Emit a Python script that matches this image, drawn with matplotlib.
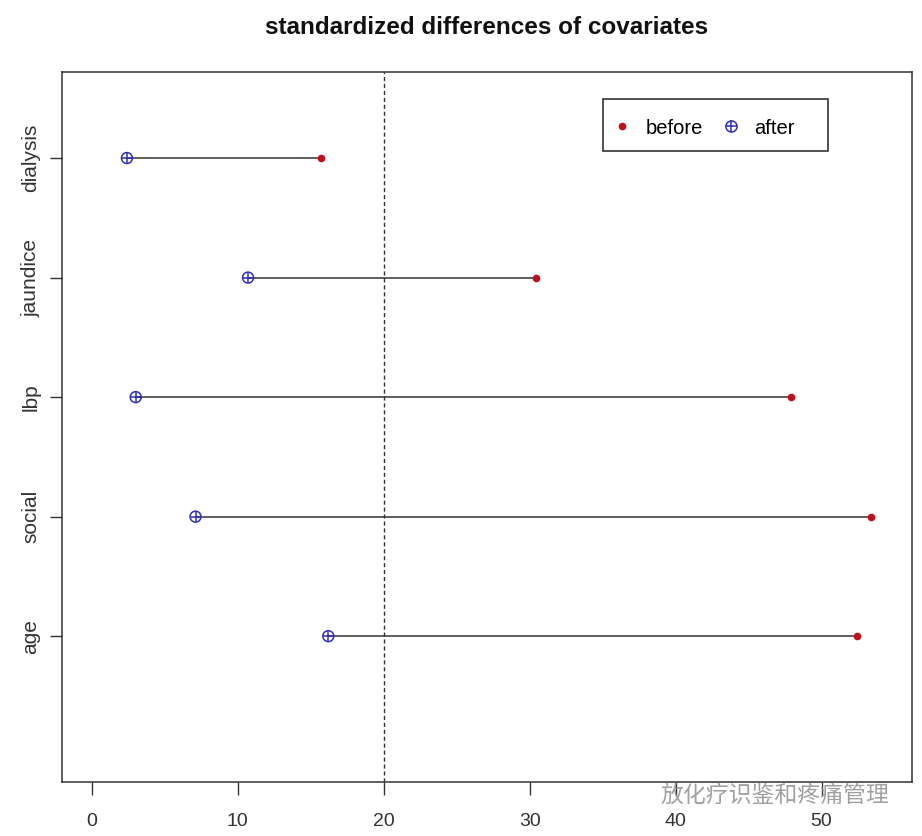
import matplotlib
matplotlib.use("Agg")
import matplotlib.pyplot as plt
from matplotlib.lines import Line2D
from matplotlib.patches import Rectangle

plt.rcParams['font.family'] = ['Liberation Sans', 'DejaVu Sans']

covariates = ["age", "social", "lbp", "jaundice", "dialysis"]
before = [52.4, 53.4, 47.9, 30.4, 15.7]
after = [16.2, 7.1, 3.0, 10.7, 2.4]
x_ticks = [0, 10, 20, 30, 40, 50]
threshold = 20

red = "#C0101C"
blue = "#3030B0"

fig = plt.figure(figsize=(9.22, 8.36), dpi=100)
ax = fig.add_axes([62 / 922, 54 / 836, 850 / 922, 710 / 836])

ypos = list(range(1, len(covariates) + 1))
for y, b, a in zip(ypos, before, after):
    ax.plot([a, b], [y, y], color="#333333", lw=1.1, zorder=1)
ax.scatter(before, ypos, s=20, color=red, zorder=3)
ax.scatter(after, ypos, s=62, facecolor="none", edgecolor=blue, marker="o", lw=1.1, zorder=3)
ax.scatter(after, ypos, s=62, color=blue, marker="+", lw=1.1, zorder=3)

ax.axvline(threshold, color="#333333", lw=1, linestyle=(0, (3, 2)))

ax.set_xlim(-2.05, 56.2)
ax.set_ylim(-0.22, 5.72)
ax.set_xticks(x_ticks)
ax.set_yticks(ypos)
ax.set_yticklabels(covariates, rotation=90, va="center")
ax.tick_params(direction="out", length=9, width=1, labelsize=14, colors="#333333")
ax.tick_params(axis="x", pad=13)
ax.tick_params(axis="y", pad=6.5, labelsize=15)
for s in ax.spines.values():
    s.set_linewidth(1.1)
    s.set_color("#333333")

fig.text(487 / 922, 1 - 27 / 836, "standardized differences of covariates", fontsize=17.5,
         fontweight="bold", ha="center", va="center", color="#111111")

# legend box drawn separately, R style (extra room on the right)
ax.add_patch(Rectangle((541 / 850, 631 / 710), 225 / 850, 52 / 710, transform=ax.transAxes,
                       facecolor="white", edgecolor="#222222", lw=1.1, zorder=4))
h_before = Line2D([], [], linestyle="none", marker="o", markersize=4.5, color=red)
h_after = Line2D([], [], linestyle="none", marker="o", markersize=8, markerfacecolor="none",
                 markeredgecolor=blue, markeredgewidth=1.1)
h_after_plus = Line2D([], [], linestyle="none", marker="+", markersize=8, color=blue,
                      markeredgewidth=1.1)
leg = ax.legend([h_before, (h_after, h_after_plus)], ["before", "after"], ncol=2,
                loc="center left", bbox_to_anchor=(550 / 850, 654 / 710), borderaxespad=0,
                borderpad=0, fontsize=14.5, frameon=False, handlelength=1.0,
                handletextpad=0.65, columnspacing=0.9)
leg.set_zorder(5)

fig.text(0.716, 1 - 795 / 836, "放化疗识鉴和疼痛管理", fontsize=16.5, color="#888888", alpha=0.8,
         family=["Noto Sans CJK SC", "DejaVu Sans"], va="center")

fig.savefig("out.png", dpi=100)
